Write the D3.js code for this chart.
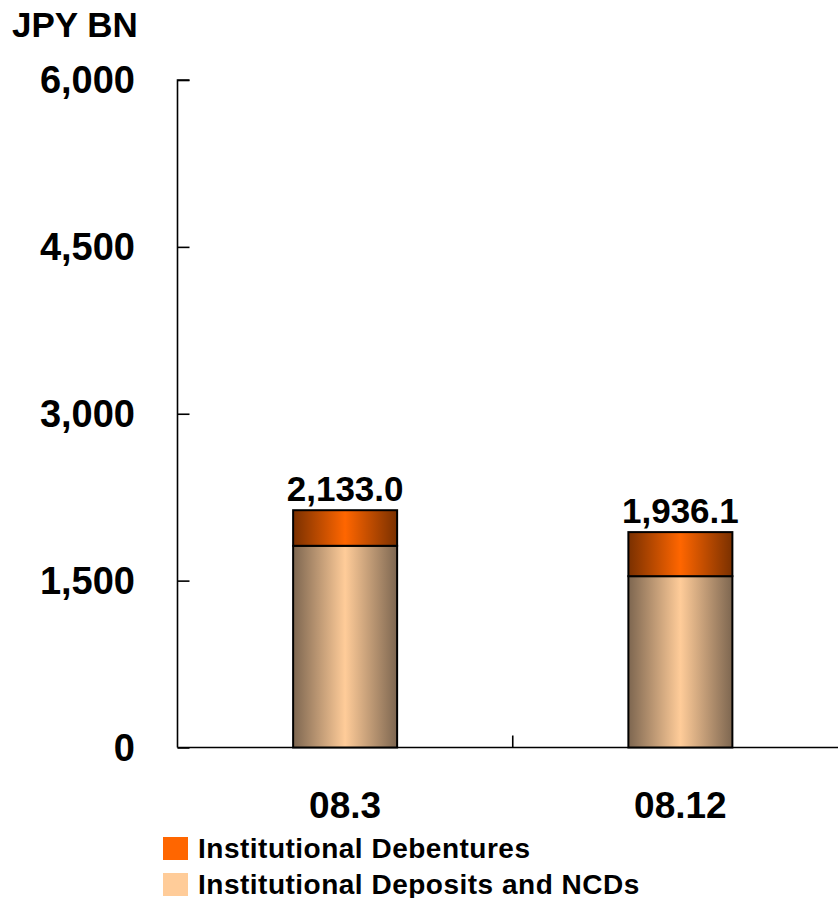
<!DOCTYPE html>
<html><head><meta charset="utf-8">
<script src="https://cdn.jsdelivr.net/npm/d3@7"></script>
<style>body{margin:0;background:#fff}svg{display:block}text{font-family:Arial,"Liberation Sans",sans-serif;font-weight:bold;fill:#000}</style>
</head><body>
<script>
const categories = ["08.3", "08.12"];
const deposits = [1813, 1540];
const debentures = [320.0, 396.1];
const totalLabels = ["2,133.0", "1,936.1"];
const yTicks = [0, 1500, 3000, 4500, 6000];
const seriesNames = ["Institutional Debentures", "Institutional Deposits and NCDs"];
const unitLabel = "JPY BN";

const W = 838, H = 898;
const svg = d3.select("body").append("svg").attr("width", W).attr("height", H);

const defs = svg.append("defs");
function grad(id, edge, center) {
  const g = defs.append("linearGradient").attr("id", id).attr("x1", "0%").attr("x2", "100%").attr("y1", "0%").attr("y2", "0%");
  g.append("stop").attr("offset", "0%").attr("stop-color", edge);
  g.append("stop").attr("offset", "50%").attr("stop-color", center);
  g.append("stop").attr("offset", "100%").attr("stop-color", edge);
}
grad("gDep", "#7d6650", "#ffcc99");
grad("gDeb", "#7a3000", "#ff6600");

const x0 = 177.5, x1 = 848;
const y = d3.scaleLinear().domain([0, 6000]).range([747.5, 80]);
const x = d3.scaleBand().domain(categories).range([x0, x1]).paddingInner(0).paddingOuter(0);
const barW = 104;

// unit label
svg.append("text").attr("x", 12).attr("y", 37).style("font-size", "35px").text(unitLabel);

// y axis
const yAxis = d3.axisRight(y).tickValues(yTicks).tickSize(12).tickFormat("");
const gy = svg.append("g").attr("transform", `translate(${x0},0)`).call(yAxis);
gy.select(".domain").attr("stroke", "#000").attr("stroke-width", 1.6).attr("d", `M12,${y(6000)}H0V${y(0)}`);
gy.selectAll(".tick line").attr("stroke", "#000").attr("stroke-width", 1.6);

svg.selectAll(".ylab").data(yTicks).join("text")
  .attr("x", 135).attr("y", d => y(d) + 13)
  .attr("text-anchor", "end").style("font-size", "38px")
  .text(d => d3.format(",")(d));

// x axis line
svg.append("line").attr("x1", x0).attr("x2", W).attr("y1", y(0)).attr("y2", y(0))
  .attr("stroke", "#000").attr("stroke-width", 1.6);
// category separator ticks
svg.selectAll(".xsep").data(categories.slice(1)).join("line")
  .attr("x1", d => x(d)).attr("x2", d => x(d))
  .attr("y1", y(0)).attr("y2", y(0) - 12)
  .attr("stroke", "#000").attr("stroke-width", 1.6);

// bars
const bars = svg.selectAll(".bar").data(categories).join("g");
bars.append("rect")
  .attr("x", (d) => x(d) + x.bandwidth() / 2 - barW / 2)
  .attr("width", barW)
  .attr("y", (d, i) => y(deposits[i]))
  .attr("height", (d, i) => y(0) - y(deposits[i]))
  .attr("fill", "url(#gDep)").attr("stroke", "#000").attr("stroke-width", 2);
bars.append("rect")
  .attr("x", (d) => x(d) + x.bandwidth() / 2 - barW / 2)
  .attr("width", barW)
  .attr("y", (d, i) => y(deposits[i] + debentures[i]))
  .attr("height", (d, i) => y(deposits[i]) - y(deposits[i] + debentures[i]))
  .attr("fill", "url(#gDeb)").attr("stroke", "#000").attr("stroke-width", 2);
bars.append("text")
  .attr("x", d => x(d) + x.bandwidth() / 2)
  .attr("y", (d, i) => y(deposits[i] + debentures[i]) - 9)
  .attr("text-anchor", "middle").style("font-size", "35px")
  .text((d, i) => totalLabels[i]);

// category labels
svg.selectAll(".xlab").data(categories).join("text")
  .attr("x", d => x(d) + x.bandwidth() / 2).attr("y", 818)
  .attr("text-anchor", "middle").style("font-size", "37px")
  .text(d => d);

// legend
const legColors = ["#ff6600", "#ffcc99"];
const leg = svg.selectAll(".leg").data(seriesNames).join("g")
  .attr("transform", (d, i) => `translate(163,${837 + i * 36})`);
leg.append("rect").attr("width", 25).attr("height", 23).attr("fill", (d, i) => legColors[i]);
leg.append("text").attr("x", 35).attr("y", 21).style("font-size", "28px").style("letter-spacing", "0.5px").text(d => d);
</script>
</body></html>
